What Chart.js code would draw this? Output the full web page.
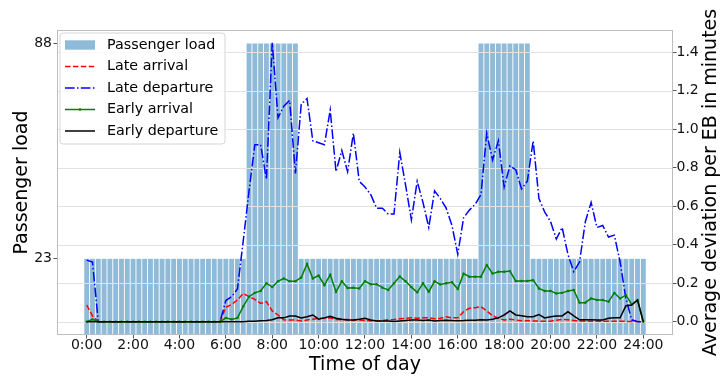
<!DOCTYPE html>
<html>
<head>
<meta charset="utf-8">
<script src="https://cdn.jsdelivr.net/npm/chart.js@4"></script>
<style>
  html, body { margin: 0; padding: 0; background: #fff; }
</style>
</head>
<body>
<canvas id="chart" width="720" height="378"></canvas>
<script>
// time of day in hours, one sample every 15 minutes (0:00 .. 24:00)
const times = Array.from({length: 97}, (_, i) => i * 0.25);

const hourTicks = [0, 2, 4, 6, 8, 10, 12, 14, 16, 18, 20, 22, 24];
const loadTicks = [23, 88];
const devTicks = [0, 0.2, 0.4, 0.6, 0.8, 1.0, 1.2, 1.4];

const passengerLoad = [
  23, 23, 23, 23, 23, 23, 23, 23, 23, 23, 23, 23, 23, 23, 23, 23, 23, 23, 23, 23,
  23, 23, 23, 23, 23, 23, 23, 23, 88, 88, 88, 88, 88, 88, 88, 88, 88, 23, 23, 23,
  23, 23, 23, 23, 23, 23, 23, 23, 23, 23, 23, 23, 23, 23, 23, 23, 23, 23, 23, 23,
  23, 23, 23, 23, 23, 23, 23, 23, 88, 88, 88, 88, 88, 88, 88, 88, 88, 23, 23, 23,
  23, 23, 23, 23, 23, 23, 23, 23, 23, 23, 23, 23, 23, 23, 23, 23, 23
];

const lateArrival = [
  0.087, 0.03, 0, 0, 0, 0, 0, 0, 0, 0, 0, 0, 0, 0, 0, 0, 0, 0, 0, 0,
  0, 0, 0, 0, 0.075, 0.09, 0.113, 0.147, 0.13, 0.116, 0.095, 0.104, 0.056, 0.035, 0.01, 0.009, 0.009, 0.004, 0.009, 0.013,
  0.018, 0.018, 0.02, 0.012, 0.01, 0.012, 0.008, 0.009, 0.006, 0.005, 0.004, 0.006, 0.01, 0.012, 0.015, 0.018, 0.021, 0.018, 0.02, 0.02,
  0.015, 0.018, 0.026, 0.02, 0.02, 0.052, 0.07, 0.073, 0.078, 0.056, 0.031, 0.018, 0.009, 0.013, 0.009, 0.005, 0.005, 0.004, 0.003, 0.003,
  0.003, 0.008, 0.012, 0.01, 0.006, 0.004, 0.004, 0.003, 0.002, 0.003, 0.002, 0.002, 0.002, 0.002, 0.001, 0.001, 0
];

const lateDeparture = [
  0.32, 0.31, 0, 0, 0, 0, 0, 0, 0, 0, 0, 0, 0, 0, 0, 0, 0, 0, 0, 0,
  0, 0, 0, 0, 0.11, 0.13, 0.17, 0.42, 0.68, 0.92, 0.92, 0.74, 1.45, 1.06, 1.12, 1.15, 0.77, 1.13, 1.16, 0.94,
  0.93, 0.92, 1.10, 0.78, 0.89, 0.78, 0.98, 0.73, 0.70, 0.66, 0.59, 0.59, 0.56, 0.56, 0.88, 0.71, 0.53, 0.73, 0.62, 0.49,
  0.68, 0.64, 0.59, 0.50, 0.35, 0.54, 0.58, 0.61, 0.66, 0.98, 0.84, 0.94, 0.70, 0.81, 0.79, 0.69, 0.73, 0.94, 0.64, 0.57,
  0.52, 0.43, 0.49, 0.35, 0.26, 0.31, 0.52, 0.62, 0.49, 0.50, 0.44, 0.45, 0.31, 0.12, 0.01, 0, 0
];

const earlyArrival = [
  0, 0.012, 0, 0, 0, 0, 0, 0, 0, 0, 0, 0, 0, 0, 0, 0, 0, 0, 0, 0,
  0, 0, 0, 0, 0.02, 0.012, 0.02, 0.08, 0.13, 0.15, 0.16, 0.20, 0.18, 0.21, 0.225, 0.21, 0.21, 0.23, 0.30, 0.225,
  0.24, 0.19, 0.245, 0.155, 0.21, 0.175, 0.177, 0.173, 0.21, 0.195, 0.195, 0.177, 0.165, 0.2, 0.235, 0.21, 0.18, 0.153, 0.2, 0.156,
  0.21, 0.194, 0.2, 0.205, 0.17, 0.25, 0.234, 0.234, 0.234, 0.295, 0.25, 0.26, 0.26, 0.263, 0.211, 0.212, 0.212, 0.216, 0.173, 0.16,
  0.16, 0.147, 0.15, 0.16, 0.165, 0.099, 0.099, 0.121, 0.113, 0.113, 0.104, 0.15, 0.121, 0.138, 0.09, 0.113, 0
];

const earlyDeparture = [
  0, 0, 0, 0, 0, 0, 0, 0, 0, 0, 0, 0, 0, 0, 0, 0, 0, 0, 0, 0,
  0, 0, 0, 0, 0, 0, 0, 0, 0.002, 0.003, 0.005, 0.006, 0.01, 0.02, 0.02, 0.03, 0.03, 0.02, 0.026, 0.035,
  0.013, 0.02, 0.028, 0.018, 0.013, 0.009, 0.009, 0.013, 0.018, 0.009, 0.004, 0.004, 0.004, 0.001, 0.004, 0.006, 0.009, 0.009, 0.006, 0.009,
  0.004, 0.006, 0.008, 0.006, 0.005, 0.006, 0.008, 0.008, 0.01, 0.009, 0.013, 0.02, 0.035, 0.056, 0.035, 0.031, 0.026, 0.026, 0.037, 0.02,
  0.026, 0.03, 0.03, 0.052, 0.03, 0.01, 0.01, 0.01, 0.009, 0.009, 0.018, 0.02, 0.02, 0.083, 0.087, 0.113, 0
];

const FONT = "'DejaVu Sans', sans-serif";
const pts = arr => times.map((t, i) => ({x: t, y: arr[i]}));

const canvas = document.getElementById("chart");
const ctx = canvas.getContext("2d");

// grid over the bars (twin axis is on top in the original), frame, legend, right title
const overlay = {
  id: "overlay",
  beforeDraw(chart) {
    const c = chart.ctx;
    c.save();
    c.fillStyle = "#fff";
    c.fillRect(0, 0, chart.width, chart.height);
    c.restore();
  },
  afterDatasetDraw(chart, args) {
    if (args.index !== 0) return;
    const c = chart.ctx, a = chart.chartArea, yDev = chart.scales.yDev;
    c.save();
    c.strokeStyle = "#e2e2e2";
    c.lineWidth = 1;
    devTicks.forEach(v => {
      const y = Math.round(yDev.getPixelForValue(v)) + 0.5;
      c.beginPath();
      c.moveTo(a.left, y);
      c.lineTo(a.right, y);
      c.stroke();
    });
    c.restore();
  },
  afterDraw(chart) {
    const c = chart.ctx, a = chart.chartArea;
    c.save();
    // frame
    c.strokeStyle = "#bdbdbd";
    c.lineWidth = 1;
    c.strokeRect(Math.round(a.left) + 0.5, Math.round(a.top) + 0.5,
                 Math.round(a.right - a.left) - 1, Math.round(a.bottom - a.top) - 1);

    // legend
    const lx = 60, ly = 33, lw = 165, lh = 111, r = 3;
    c.beginPath();
    c.moveTo(lx + r, ly);
    c.arcTo(lx + lw, ly, lx + lw, ly + lh, r);
    c.arcTo(lx + lw, ly + lh, lx, ly + lh, r);
    c.arcTo(lx, ly + lh, lx, ly, r);
    c.arcTo(lx, ly, lx + lw, ly, r);
    c.closePath();
    c.fillStyle = "rgba(255,255,255,0.8)";
    c.fill();
    c.strokeStyle = "#d6d6d6";
    c.stroke();

    c.font = "14.3px " + FONT;
    c.textBaseline = "middle";
    c.fillStyle = "#000";
    chart.data.datasets.forEach((ds, i) => {
      const y = 45 + i * 21.5;
      if (ds.type === "bar") {
        c.fillStyle = ds.backgroundColor;
        c.fillRect(65, y - 4.7, 30, 9.4);
      } else {
        c.strokeStyle = ds.borderColor;
        c.lineWidth = ds.borderWidth;
        c.setLineDash(ds.borderDash || []);
        c.beginPath();
        c.moveTo(65, y);
        c.lineTo(95, y);
        c.stroke();
        c.setLineDash([]);
        if (ds.pointRadius) {
          c.fillStyle = ds.borderColor;
          c.beginPath();
          c.arc(80, y, ds.pointRadius, 0, Math.PI * 2);
          c.fill();
        }
      }
      c.fillStyle = "#000";
      c.fillText(ds.label, 107, y);
    });

    // right axis title, reading upwards as in the original
    c.translate(711.5, (a.top + a.bottom) / 2);
    c.rotate(-Math.PI / 2);
    c.font = "19px " + FONT;
    c.textAlign = "center";
    c.fillStyle = "#000";
    c.fillText("Average deviation per EB in minutes", 0, 0);
    c.restore();
  }
};

const tickFont = {family: FONT, size: 14};

new Chart(ctx, {
  type: "bar",
  data: {
    datasets: [
      {
        type: "bar",
        label: "Passenger load",
        data: pts(passengerLoad),
        yAxisID: "yLoad",
        backgroundColor: "rgba(31,119,180,0.5)",
        borderWidth: 0,
        barPercentage: 0.84,
        categoryPercentage: 1,
        order: 10
      }, {
        type: "line",
        label: "Late arrival",
        data: pts(lateArrival),
        yAxisID: "yDev",
        borderColor: "#ff0000",
        borderWidth: 1.5,
        borderDash: [5.5, 2.4],
        pointRadius: 0,
        order: 3
      }, {
        type: "line",
        label: "Late departure",
        data: pts(lateDeparture),
        yAxisID: "yDev",
        borderColor: "#0000ff",
        borderWidth: 1.5,
        borderDash: [9.6, 2.4, 1.5, 2.4],
        pointRadius: 0,
        order: 2
      }, {
        type: "line",
        label: "Early arrival",
        data: pts(earlyArrival),
        yAxisID: "yDev",
        borderColor: "#008000",
        borderWidth: 1.5,
        pointRadius: 1.2,
        pointBorderWidth: 0,
        pointBackgroundColor: "#008000",
        order: 1
      }, {
        type: "line",
        label: "Early departure",
        data: pts(earlyDeparture),
        yAxisID: "yDev",
        borderColor: "#000000",
        borderWidth: 1.5,
        pointRadius: 0,
        order: 0
      }
    ]
  },
  options: {
    responsive: false,
    animation: false,
    devicePixelRatio: 1,
    layout: {padding: {top: 30, left: 0, right: 0, bottom: 0}},
    plugins: {legend: {display: false}, tooltip: {enabled: false}},
    scales: {
      x: {
        type: "linear",
        min: -1.28,
        max: 25.28,
        offset: false,
        afterBuildTicks: s => { s.ticks = hourTicks.map(v => ({value: v})); },
        afterFit: s => { s.height = 43; },
        ticks: {
          callback: v => v + ":00",
          font: tickFont,
          color: "#111",
          padding: -2,
          maxRotation: 0,
          autoSkip: false
        },
        grid: {offset: false, drawOnChartArea: false, tickLength: 3.5, tickColor: "#555"},
        border: {display: false},
        title: {display: true, text: "Time of day", font: {family: FONT, size: 19}, color: "#000", padding: {top: 0, bottom: 1.6}}
      },
      yLoad: {
        type: "linear",
        position: "left",
        min: 0,
        max: 92.1,
        afterBuildTicks: s => { s.ticks = loadTicks.map(v => ({value: v})); },
        afterFit: s => { s.width = 57; },
        ticks: {font: tickFont, color: "#111", padding: 1.5},
        grid: {drawOnChartArea: false, tickLength: 3.5, tickColor: "#555"},
        border: {display: false},
        title: {display: true, text: "Passenger load", font: {family: FONT, size: 19}, color: "#000", padding: {top: 10.6, bottom: 0}}
      },
      yDev: {
        type: "linear",
        position: "right",
        min: -0.069,
        max: 1.516,
        afterBuildTicks: s => { s.ticks = devTicks.map(v => ({value: v})); },
        afterFit: s => { s.width = 47; },
        ticks: {font: tickFont, color: "#111", padding: 0, callback: v => v.toFixed(1)},
        grid: {drawOnChartArea: false, tickLength: 3.5, tickColor: "#555"},
        border: {display: false}
      }
    }
  },
  plugins: [overlay]
});
</script>
</body>
</html>
